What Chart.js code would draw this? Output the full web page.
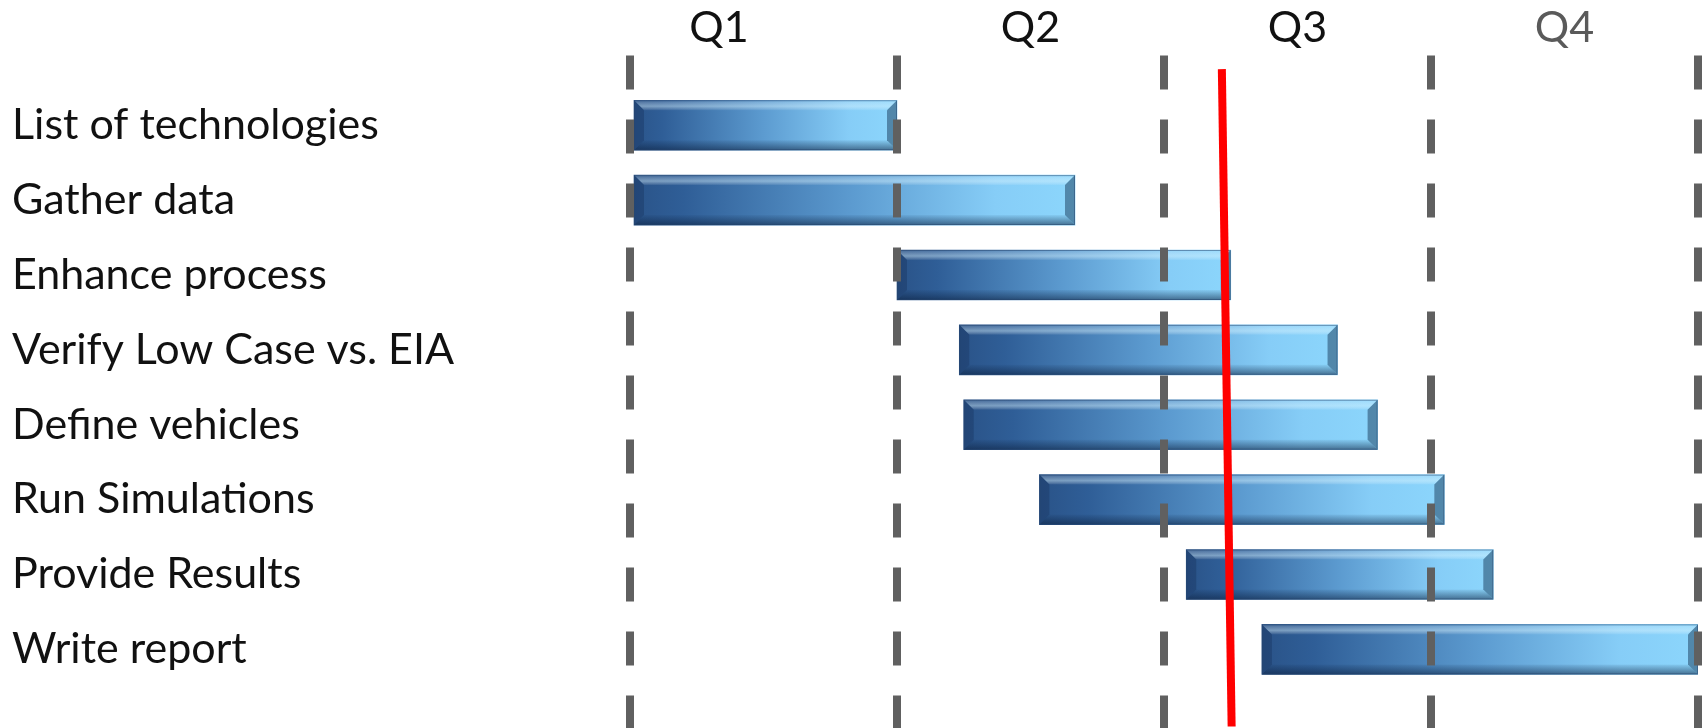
<!DOCTYPE html>
<html>
<head>
<meta charset="utf-8">
<script src="https://cdn.jsdelivr.net/npm/chart.js@4/dist/chart.umd.min.js"></script>
<style>
  html, body { margin: 0; padding: 0; background: #fff; overflow: hidden; }
  #wrap { width: 1704px; height: 728px; }
</style>
</head>
<body>
<div id="wrap"><canvas id="gantt"></canvas></div>
<script>
// tasks, top to bottom
const tasks = [
    'List of technologies',
    'Gather data',
    'Enhance process',
    'Verify Low Case vs. EIA',
    'Define vehicles',
    'Run Simulations',
    'Provide Results',
    'Write report'
];
// start / end in months from the start of the year
const startMonth = [0, 0, 3, 3.7, 3.75, 4.6, 6.25, 7.1];
const endMonth = [3, 5, 6.75, 7.95, 8.4, 9.15, 9.7, 12];

const quarters = ['Q1', 'Q2', 'Q3', 'Q4'];
const quarterLines = [0, 3, 6, 9, 12];
const quarterMids = [1.0, 4.5, 7.5, 10.5];

// "today" marker, drawn slightly slanted
const todayLine = [
    { x: 6.65, y: -0.75 },
    { x: 6.76, y: 8.03 }
];

const labelFont = { family: 'Lato', size: 43 };

function barGradient(context) {
    const chart = context.chart;
    const raw = context.raw;
    if (!chart.chartArea || !raw) {
        return '#4f86bf';
    }
    const xs = chart.scales.x;
    const x0 = xs.getPixelForValue(raw.x[0]);
    const x1 = xs.getPixelForValue(raw.x[1]);
    const g = chart.ctx.createLinearGradient(x0, 0, x1, 0);
    g.addColorStop(0, '#2a5388');
    g.addColorStop(0.12, '#2f5e97');
    g.addColorStop(0.5, '#5c9bd0');
    g.addColorStop(0.82, '#86cdf7');
    g.addColorStop(1, '#8cd6fc');
    return g;
}

// bevelled edges on the bars
const bevel = {
    id: 'bevel',
    afterDatasetDraw(chart, args) {
        if (args.index !== 0) return;
        const ctx = chart.ctx;
        const b = 10;
        args.meta.data.forEach(function (el) {
            const p = el.getProps(['x', 'base', 'y', 'height'], true);
            const l = Math.min(p.x, p.base), r = Math.max(p.x, p.base);
            const t = p.y - p.height / 2, btm = p.y + p.height / 2;
            ctx.save();
            // top light strip
            ctx.beginPath();
            ctx.moveTo(l, t); ctx.lineTo(r, t);
            ctx.lineTo(r - b, t + b); ctx.lineTo(l + b, t + b);
            ctx.closePath();
            let g = ctx.createLinearGradient(0, t, 0, t + b);
            g.addColorStop(0, 'rgba(255,255,255,0.10)');
            g.addColorStop(0.6, 'rgba(220,245,255,0.45)');
            g.addColorStop(1, 'rgba(255,255,255,0.05)');
            ctx.fillStyle = g;
            ctx.fill();
            // bottom shadow strip
            ctx.beginPath();
            ctx.moveTo(l, btm); ctx.lineTo(r, btm);
            ctx.lineTo(r - b, btm - b); ctx.lineTo(l + b, btm - b);
            ctx.closePath();
            g = ctx.createLinearGradient(0, btm - b, 0, btm);
            g.addColorStop(0, 'rgba(10,30,60,0.05)');
            g.addColorStop(1, 'rgba(10,30,60,0.55)');
            ctx.fillStyle = g;
            ctx.fill();
            // left end
            ctx.beginPath();
            ctx.moveTo(l, t); ctx.lineTo(l + b, t + b);
            ctx.lineTo(l + b, btm - b); ctx.lineTo(l, btm);
            ctx.closePath();
            ctx.fillStyle = 'rgba(15,40,80,0.30)';
            ctx.fill();
            // right end
            ctx.beginPath();
            ctx.moveTo(r, t); ctx.lineTo(r - b, t + b);
            ctx.lineTo(r - b, btm - b); ctx.lineTo(r, btm);
            ctx.closePath();
            ctx.fillStyle = 'rgba(10,40,70,0.45)';
            ctx.fill();
            // thin outline
            ctx.strokeStyle = 'rgba(40,70,110,0.5)';
            ctx.lineWidth = 1;
            ctx.strokeRect(l + 0.5, t + 0.5, r - l - 1, btm - t - 1);
            ctx.restore();
        });
    }
};

new Chart(document.getElementById('gantt'), {
    type: 'bar',
    data: {
        datasets: [{
            type: 'bar',
            order: 1,
            indexAxis: 'y',
            data: tasks.map((t, i) => ({ x: [startMonth[i], endMonth[i]], y: i })),
            backgroundColor: barGradient,
            borderWidth: 0,
            barThickness: 50,
            xAxisID: 'x',
            yAxisID: 'y'
        }, {
            type: 'line',
            order: 0,
            data: todayLine,
            borderColor: '#ff0000',
            borderWidth: 8,
            pointRadius: 0,
            fill: false,
            clip: false,
            xAxisID: 'x',
            yAxisID: 'y'
        }]
    },
    options: {
        responsive: true,
        maintainAspectRatio: false,
        animation: false,
        indexAxis: 'y',
        layout: { padding: { left: 12, right: 6, top: 0, bottom: 0 } },
        plugins: {
            legend: { display: false },
            tooltip: { enabled: false }
        },
        scales: {
            x: {
                type: 'linear',
                position: 'bottom',
                min: 0,
                max: 12,
                offset: false,
                afterBuildTicks: (scale) => {
                    scale.ticks = quarterLines.map(v => ({ value: v }));
                },
                ticks: { display: false },
                grid: {
                    z: 1,
                    offset: false,
                    color: '#606060',
                    lineWidth: 8,
                    drawTicks: false,
                    borderDash: [34, 30]
                },
                border: { display: false, dash: [34, 30] }
            },
            xq: {
                type: 'linear',
                axis: 'x',
                position: 'top',
                min: 0,
                max: 12,
                offset: false,
                afterBuildTicks: (scale) => {
                    scale.ticks = quarterMids.map(v => ({ value: v }));
                },
                ticks: {
                    autoSkip: false,
                    maxRotation: 0,
                    padding: 2,
                    font: labelFont,
                    color: (c) => c.index === 3 ? '#5a5a5a' : '#111111',
                    callback: (v, i) => quarters[i]
                },
                grid: { display: false, drawTicks: false },
                border: { display: false }
            },
            y: {
                type: 'linear',
                reverse: true,
                offset: false,
                min: -0.93,
                max: 8.05,
                afterBuildTicks: (scale) => {
                    scale.ticks = tasks.map((t, i) => ({ value: i }));
                },
                afterFit: (scale) => {
                    scale.width = 618;
                    scale.paddingTop = 0;
                    scale.paddingBottom = 0;
                },
                ticks: {
                    autoSkip: false,
                    crossAlign: 'far',
                    padding: 0,
                    font: labelFont,
                    color: '#111111',
                    callback: (v) => tasks[v]
                },
                grid: { display: false, drawTicks: false, offset: false },
                border: { display: false }
            }
        }
    },
    plugins: [bevel]
});
</script>
</body>
</html>
